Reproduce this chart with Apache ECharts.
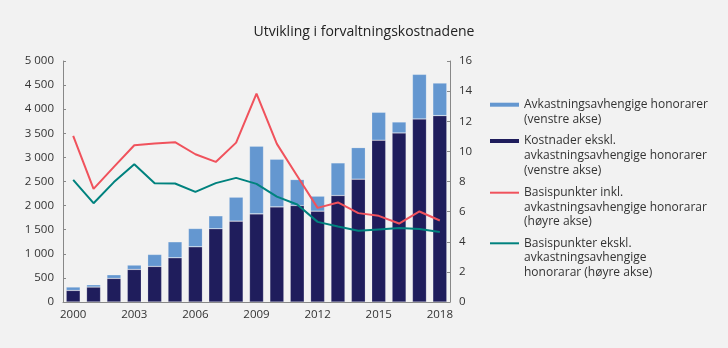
<!DOCTYPE html>
<html>
<head>
<meta charset="utf-8">
<script src="https://cdn.jsdelivr.net/npm/echarts@6/dist/echarts.min.js"></script>
<style>
html,body{margin:0;padding:0;background:#f2f2f2;}
#c{width:728px;height:348px;}
</style>
</head>
<body>
<div id="c"></div>
<script>
const years = ['2000','2001','2002','2003','2004','2005','2006','2007','2008','2009','2010','2011','2012','2013','2014','2015','2016','2017','2018'];
// Costs excl. performance-based fees (left axis)
const costsExcl = [240, 310, 490, 676, 738, 918, 1146, 1519, 1678, 1829, 1974, 2001, 1885, 2209, 2548, 3356, 3507, 3797, 3866];
// Totals (bar tops)
const totals = [311, 358, 565, 766, 987, 1249, 1525, 1788, 2175, 3232, 2962, 2540, 2196, 2886, 3203, 3936, 3735, 4723, 4543];
// Performance-based fees = total - excl
const perfFees = totals.map((t, i) => t - costsExcl[i]);
// Basis points incl. performance fees (right axis)
const bpIncl = [11.03, 7.51, 8.97, 10.41, 10.52, 10.61, 9.81, 9.30, 10.58, 13.83, 10.50, 8.37, 6.25, 6.61, 5.90, 5.72, 5.21, 6.01, 5.41];
// Basis points excl. performance fees (right axis)
const bpExcl = [8.11, 6.56, 7.96, 9.15, 7.89, 7.87, 7.31, 7.89, 8.24, 7.84, 7.00, 6.47, 5.32, 5.01, 4.73, 4.82, 4.91, 4.84, 4.64];

const names = [
  'Avkastningsavhengige honorarer\n(venstre akse)',
  'Kostnader ekskl.\navkastningsavhengige honorarer\n(venstre akse)',
  'Basispunkter inkl.\navkastningsavhengige honorarar\n(høyre akse)',
  'Basispunkter ekskl.\navkastningsavhengige\nhonorarar (høyre akse)'
];
const colors = ['#6497d0', '#1f1d5c', '#f0525c', '#00827e'];

const fmt = v => String(v).replace(/\B(?=(\d{3})+(?!\d))/g, ' ');
const font = 'Open Sans';
const LH = 14.6;

// icon centre y for each legend entry
function legendFor(i, iconY, isLine) {
  const n = names[i].split('\n').length;
  const h = (2 * n - 1) * LH;
  return {
    left: 490, top: iconY - h / 2, orient: 'vertical', padding: 0,
    data: [{name: names[i], icon: 'rect', itemStyle: {borderWidth: 0}}],
    itemWidth: 29, itemHeight: isLine ? 2 : 4,
    itemGap: 0,
    selectedMode: false,
    formatter: name => '\n'.repeat(n - 1) + name,
    textStyle: {fontFamily: font, fontSize: 12, color: '#333', lineHeight: LH}
  };
}

const chart = echarts.init(document.getElementById('c'), null, {renderer: 'canvas'});
chart.setOption({
  backgroundColor: '#f2f2f2',
  animation: false,
  title: {
    text: 'Utvikling i forvaltningskostnadene',
    left: 'center', top: 20,
    textStyle: {fontFamily: font, fontSize: 14, fontWeight: 500, color: '#222'}
  },
  legend: [
    legendFor(0, 104.7, false),
    legendFor(1, 141, false),
    legendFor(2, 192.7, true),
    legendFor(3, 243.3, true)
  ],
  grid: {left: 63, right: 278, top: 61, bottom: 46},
  xAxis: {
    type: 'category', data: years,
    axisLine: {lineStyle: {color: '#888', width: 1}},
    axisTick: {show: false},
    axisLabel: {interval: 2, fontFamily: font, fontSize: 11.5, color: '#333', margin: 7}
  },
  yAxis: [
    {type: 'value', min: 0, max: 5000, interval: 500,
     axisLine: {show: true, lineStyle: {color: '#888'}},
     axisTick: {show: true, inside: true, length: 3, lineStyle: {color: '#888'}},
     splitLine: {show: false},
     axisLabel: {formatter: v => fmt(v), fontFamily: font, fontSize: 11.5, color: '#333', margin: 9}},
    {type: 'value', min: 0, max: 16, interval: 2,
     axisLine: {show: true, lineStyle: {color: '#888'}},
     axisTick: {show: true, inside: true, length: 3, lineStyle: {color: '#888'}},
     splitLine: {show: false},
     axisLabel: {fontFamily: font, fontSize: 11.5, color: '#333', margin: 9}}
  ],
  series: [
    {name: names[1], type: 'bar', stack: 'a', data: costsExcl, barWidth: 14,
     itemStyle: {color: colors[1], borderColor: 'rgba(255,255,255,0.3)', borderWidth: 0.6}},
    {name: names[0], type: 'bar', stack: 'a', data: perfFees, barWidth: 14,
     itemStyle: {color: colors[0], borderColor: 'rgba(255,255,255,0.3)', borderWidth: 0.6}},
    {name: names[2], type: 'line', yAxisIndex: 1, data: bpIncl, symbol: 'none',
     lineStyle: {color: colors[2], width: 2}, itemStyle: {color: colors[2]}},
    {name: names[3], type: 'line', yAxisIndex: 1, data: bpExcl, symbol: 'none',
     lineStyle: {color: colors[3], width: 2}, itemStyle: {color: colors[3]}}
  ]
});
</script>
</body>
</html>
